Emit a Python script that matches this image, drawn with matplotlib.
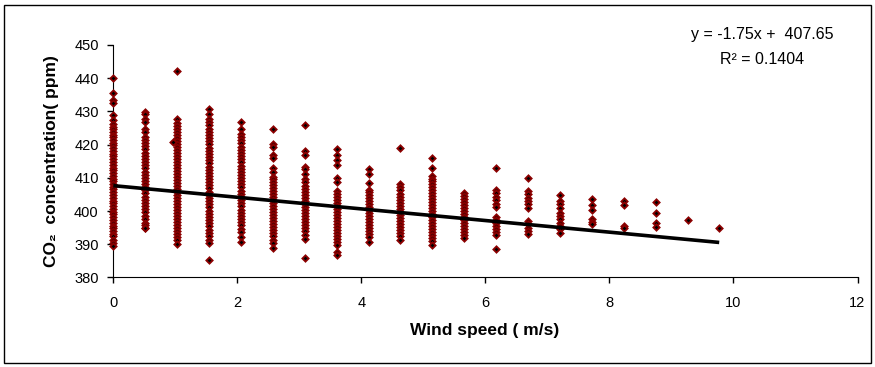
import matplotlib
matplotlib.use('Agg')
import matplotlib.pyplot as plt
import numpy as np

plt.rcParams['font.family'] = ['Liberation Sans', 'DejaVu Sans']

# wind speed classes (m/s)
wind = [0.00, 0.51, 1.03, 1.54, 2.06, 2.57, 3.09, 3.60, 4.12, 4.63,
        5.14, 5.66, 6.17, 6.69, 7.20, 7.72, 8.23, 8.75, 9.26, 9.77]

# CO2 readings (ppm) for each wind speed column
co2_w00 = [440.0, 435.6, 433.4, 432.4, 428.9, 427.5, 426.3, 425.4, 424.6, 423.7, 423.0,
           422.2, 421.5, 420.6, 419.8, 419.0, 418.1, 417.3, 416.5, 415.6, 414.8, 414.0,
           413.1, 412.3, 411.5, 410.6, 409.8, 409.0, 408.1, 407.3, 406.5, 405.6, 404.8,
           404.0, 403.1, 402.3, 401.5, 400.6, 399.8, 399.0, 398.1, 397.3, 396.5, 395.6,
           394.8, 394.0, 393.1, 392.4, 391.3, 390.5, 389.6]
co2_w01 = [429.8, 429.2, 427.8, 426.8, 424.8, 423.9, 422.3, 421.4, 420.5, 419.5, 418.6,
           417.6, 416.7, 415.7, 414.8, 413.8, 412.9, 411.9, 411.0, 410.0, 409.1, 408.1,
           407.2, 406.2, 405.3, 404.3, 403.4, 402.4, 401.5, 400.5, 399.6, 398.6, 397.7,
           396.4, 395.7, 395.0, 394.8]
co2_w02 = [442.2, 427.8, 426.5, 425.6, 424.7, 423.8, 422.9, 422.0, 421.1, 420.2, 419.3,
           418.4, 417.5, 416.6, 415.7, 414.8, 413.9, 413.0, 412.1, 411.2, 410.3, 409.4,
           408.5, 407.6, 406.7, 405.8, 404.9, 404.0, 403.1, 402.2, 401.3, 400.4, 399.5,
           398.6, 397.7, 396.8, 395.9, 395.0, 394.1, 393.2, 392.3, 391.3, 390.2]
co2_w03 = [430.8, 429.1, 427.6, 426.7, 425.8, 424.8, 423.9, 422.9, 422.0, 421.0, 420.1,
           419.1, 418.2, 417.2, 416.3, 415.3, 414.4, 413.4, 412.5, 411.5, 410.6, 409.6,
           408.7, 407.7, 406.8, 405.8, 404.9, 403.9, 403.0, 402.0, 401.1, 400.1, 399.2,
           398.2, 397.3, 396.3, 395.4, 394.4, 393.5, 392.5, 391.4, 390.3, 385.2]
co2_w04 = [426.8, 424.8, 423.3, 422.4, 421.3, 420.4, 419.4, 418.5, 417.5, 416.6, 415.6,
           414.7, 413.7, 412.8, 411.8, 410.9, 409.9, 409.0, 408.0, 407.1, 406.1, 405.2,
           404.2, 403.3, 402.3, 401.4, 400.4, 399.5, 398.5, 397.6, 396.6, 395.7, 394.7,
           393.6, 392.3, 390.8]
co2_w05 = [424.7, 420.3, 419.4, 416.9, 416.0, 413.1, 411.8, 410.3, 409.6, 408.7, 407.8,
           406.9, 406.0, 405.1, 404.2, 403.3, 402.4, 401.5, 400.6, 399.7, 398.8, 397.9,
           397.0, 396.1, 395.2, 394.3, 393.4, 392.4, 391.2, 390.3, 388.8]
co2_w06 = [425.9, 418.1, 416.8, 413.2, 412.8, 411.1, 409.8, 408.8, 407.4, 406.5, 405.6,
           404.7, 403.8, 402.9, 402.0, 401.1, 400.2, 399.3, 398.4, 397.5, 396.6, 395.7,
           394.8, 393.9, 392.9, 391.5, 386.0]
co2_w07 = [418.7, 416.8, 415.5, 414.0, 410.1, 408.8, 406.0, 405.2, 404.3, 403.4, 402.5,
           401.6, 400.7, 399.8, 398.9, 398.0, 397.1, 396.2, 395.3, 394.4, 393.5, 392.6,
           391.7, 390.8, 389.8, 387.8, 386.8]
co2_w08 = [412.7, 411.1, 408.3, 406.3, 405.6, 404.7, 403.8, 402.9, 402.0, 401.1, 400.2,
           399.3, 398.4, 397.5, 396.6, 395.7, 394.8, 393.9, 393.0, 392.2, 390.8]
co2_w09 = [419.0, 408.1, 407.3, 406.3, 405.0, 404.1, 403.2, 402.3, 401.4, 400.5, 399.6,
           398.7, 397.8, 396.9, 396.0, 395.1, 394.2, 393.3, 392.4, 391.4]
co2_w10 = [415.9, 413.0, 410.6, 409.8, 409.0, 408.1, 407.2, 406.3, 405.4, 404.5, 403.6,
           402.7, 401.8, 400.9, 400.0, 399.1, 398.2, 397.3, 396.4, 395.5, 394.6, 393.7,
           392.8, 391.9, 390.9, 389.9]
co2_w11 = [405.3, 404.4, 403.5, 402.6, 401.7, 400.8, 399.9, 399.0, 398.1, 397.2, 396.3,
           395.4, 394.5, 393.6, 392.7, 391.9]
co2_w12 = [413.1, 406.2, 405.3, 404.3, 403.3, 402.2, 401.3, 398.3, 397.4, 396.5, 395.6,
           394.7, 393.8, 392.9, 388.7]
co2_w13 = [410.1, 406.0, 405.0, 404.0, 403.0, 402.0, 401.0, 397.0, 396.0, 395.0, 394.0, 393.0]
co2_w14 = [404.9, 403.0, 402.0, 401.0, 399.5, 398.5, 397.5, 396.5, 395.5, 394.5, 393.5]
co2_w15 = [403.7, 401.7, 400.2, 397.5, 396.7, 396.0]
co2_w16 = [403.0, 401.8, 395.5, 394.8]
co2_w17 = [402.7, 399.4, 396.3, 395.3]
co2_w18 = [397.3]
co2_w19 = [394.9]

# single stray point just left of the 1.03 column
stray_x = [0.96]
stray_y = [420.7]

slope = -1.75
intercept = 407.65
r2 = 0.1404

columns = [co2_w00, co2_w01, co2_w02, co2_w03, co2_w04, co2_w05, co2_w06, co2_w07,
           co2_w08, co2_w09, co2_w10, co2_w11, co2_w12, co2_w13, co2_w14, co2_w15,
           co2_w16, co2_w17, co2_w18, co2_w19]

xs = []
ys = []
for w, vals in zip(wind, columns):
    xs += [w] * len(vals)
    ys += vals
xs += stray_x
ys += stray_y

fig = plt.figure(figsize=(8.75, 3.67), dpi=100)
ax = fig.add_axes([0.1295, 0.2439, 0.8505, 0.6335])

ax.plot(xs, ys, linestyle='none', marker='D', markersize=3.2,
        markerfacecolor='black', markeredgecolor='#8b0000', markeredgewidth=1.3,
        clip_on=False, zorder=3)

fit_x = np.array([0, max(wind)])
ax.plot(fit_x, slope * fit_x + intercept, color='black', linewidth=2.6,
        solid_capstyle='butt', zorder=4)

ax.set_xlim(0, 12)
ax.set_ylim(380, 450)
ax.set_xticks([0, 2, 4, 6, 8, 10, 12])
ax.set_yticks([380, 390, 400, 410, 420, 430, 440, 450])
ax.spines['top'].set_visible(False)
ax.spines['right'].set_visible(False)
ax.tick_params(axis='y', direction='out', length=4.5, width=1, pad=6, labelsize=10.5)
ax.tick_params(axis='x', direction='out', length=4.5, width=1, pad=9, labelsize=10.5)

fig.text(0.554, 1 - 330 / 367, 'Wind speed ( m/s)', ha='center', va='center',
         fontsize=12.5, fontweight='bold')
fig.text(52 / 875, 1 - 161 / 367, 'CO\u2082  concentration( ppm)', ha='center',
         va='center', rotation=90, fontsize=12.5, fontweight='bold')

fig.text(762 / 875, 1 - 34 / 367, f'y = {slope}x +  {intercept}', ha='center',
         va='center', fontsize=11.5)
fig.text(762 / 875, 1 - 59 / 367, f'R\u00b2 = {r2}', ha='center', va='center',
         fontsize=11.5)

fig.patches.append(plt.Rectangle((4 / 875, 4 / 367), 867 / 875, 358 / 367,
                                 transform=fig.transFigure, fill=False,
                                 edgecolor='black', linewidth=1))

fig.savefig('out.png', dpi=100)
